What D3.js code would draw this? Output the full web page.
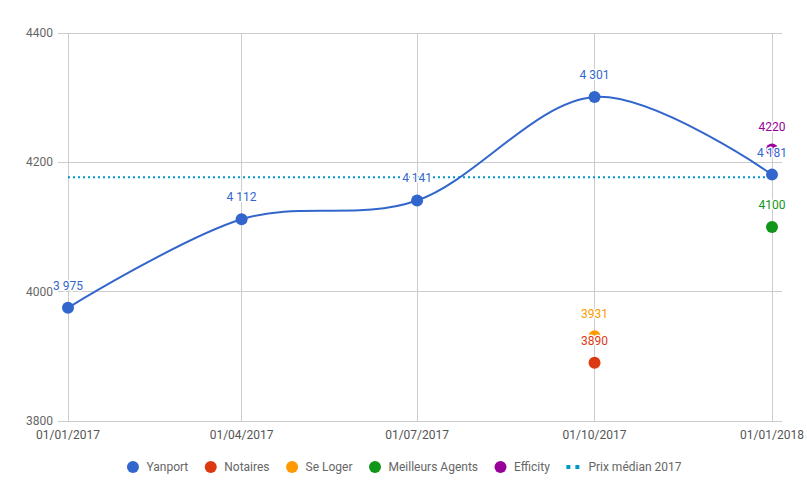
<!DOCTYPE html>
<html><head><meta charset="utf-8">
<script src="https://cdn.jsdelivr.net/npm/d3@7"></script>
<style>body{margin:0;background:#fff;font-family:Roboto,Arial,sans-serif}</style>
</head><body><svg id="c" width="807" height="499"></svg>
<script>
const dates = ["2017-01-01","2017-04-01","2017-07-01","2017-10-01","2018-01-01"];
const dateLabels = ["01/01/2017","01/04/2017","01/07/2017","01/10/2017","01/01/2018"];
const yanport = [3975, 4112, 4141, 4301, 4181];
const notaires = [{d:"2017-10-01", v:3890}];
const seLoger = [{d:"2017-10-01", v:3931}];
const meilleursAgents = [{d:"2018-01-01", v:4100}];
const efficity = [{d:"2018-01-01", v:4220}];
const medianValue = 4177;
const yTicks = [3800, 4000, 4200, 4400];
const seriesNames = ["Yanport","Notaires","Se Loger","Meilleurs Agents","Efficity","Prix médian 2017"];
const colors = ["#3366cc","#dc3912","#ff9900","#109618","#990099","#0099c6"];

const parse = d3.timeParse("%Y-%m-%d");
const svg = d3.select("#c");
const x = d3.scaleTime().domain([parse(dates[0]), parse(dates[4])]).range([68, 772]);
const y = d3.scaleLinear().domain([3800, 4400]).range([421, 33]);
const fmtSpace = v => { const s = String(v); return s.slice(0, s.length-3) + " " + s.slice(-3); };

// gridlines
svg.append("g").selectAll("line").data(yTicks).join("line")
  .attr("x1", 58).attr("x2", 782).attr("y1", d => y(d)).attr("y2", d => y(d))
  .attr("stroke", "#cccccc").attr("stroke-width", 1).attr("shape-rendering","crispEdges");
svg.append("g").selectAll("line").data(dates).join("line")
  .attr("x1", d => x(parse(d))).attr("x2", d => x(parse(d))).attr("y1", y(4400)).attr("y2", y(3800))
  .attr("stroke", "#cccccc").attr("stroke-width", 1).attr("shape-rendering","crispEdges");

// y labels
svg.append("g").selectAll("text").data(yTicks).join("text")
  .attr("x", 53).attr("y", d => y(d) + 4).attr("text-anchor","end")
  .attr("font-size", 12).attr("fill", "#666").text(d => d);
// x labels
svg.append("g").selectAll("text").data(dates).join("text")
  .attr("x", d => x(parse(d))).attr("y", 439).attr("text-anchor","middle")
  .attr("font-size", 12).attr("fill", "#555").text((d,i) => dateLabels[i]);

// median line
svg.append("line").attr("x1", x(parse(dates[0]))).attr("x2", x(parse(dates[4])))
  .attr("y1", y(medianValue)).attr("y2", y(medianValue))
  .attr("stroke", colors[5]).attr("stroke-width", 2).attr("stroke-dasharray", "2,3");

// Yanport line
const ypts = dates.map((d,i) => ({d: parse(d), v: yanport[i]}));
svg.append("path").datum(ypts)
  .attr("d", d3.line().x(p => x(p.d)).y(p => y(p.v)).curve(d3.curveCardinal.tension(0)))
  .attr("fill","none").attr("stroke", colors[0]).attr("stroke-width", 2);

const others = [notaires, seLoger, meilleursAgents, efficity];
// points
svg.append("g").selectAll("circle").data(ypts).join("circle")
  .attr("cx", p => x(p.d)).attr("cy", p => y(p.v)).attr("r", 6).attr("fill", colors[0]);
others.forEach((s, k) => {
  svg.append("g").selectAll("circle").data(s).join("circle")
    .attr("cx", p => x(parse(p.d))).attr("cy", p => y(p.v)).attr("r", 6).attr("fill", colors[k+1]);
});

// labels
function label(g, cx, cy, txt, col) {
  g.append("text").attr("x", cx).attr("y", cy - 18).attr("text-anchor","middle")
    .attr("font-size", 12).attr("fill", col).attr("stroke","#fff").attr("stroke-width", 3)
    .attr("paint-order","stroke").attr("stroke-linejoin","round").text(txt);
}
const lg = svg.append("g");
ypts.forEach(p => label(lg, x(p.d), y(p.v), fmtSpace(p.v), colors[0]));
others.forEach((s, k) => s.forEach(p => label(lg, x(parse(p.d)), y(p.v), String(p.v), colors[k+1])));

// legend
const leg = svg.append("g");
let cursor = 0;
seriesNames.forEach((n, i) => {
  const g = leg.append("g");
  let tx;
  if (i < 5) {
    g.append("circle").attr("cx", 6).attr("cy", 0).attr("r", 6).attr("fill", colors[i]);
    tx = 19.5;
  } else {
    g.append("rect").attr("x", 0).attr("y", -2).attr("width", 4).attr("height", 4).attr("fill", colors[i]);
    g.append("rect").attr("x", 9).attr("y", -2).attr("width", 4).attr("height", 4).attr("fill", colors[i]);
    tx = 22;
  }
  const t = g.append("text").attr("x", tx).attr("y", 4).attr("font-size", 12).attr("fill", "#666").text(n);
  const w = tx + t.node().getComputedTextLength();
  g.attr("transform", `translate(${cursor},467)`);
  cursor += w + 16.5;
});
const total = cursor - 16.5;
leg.attr("transform", `translate(${(808.5 - total)/2},0)`);
</script></body></html>
